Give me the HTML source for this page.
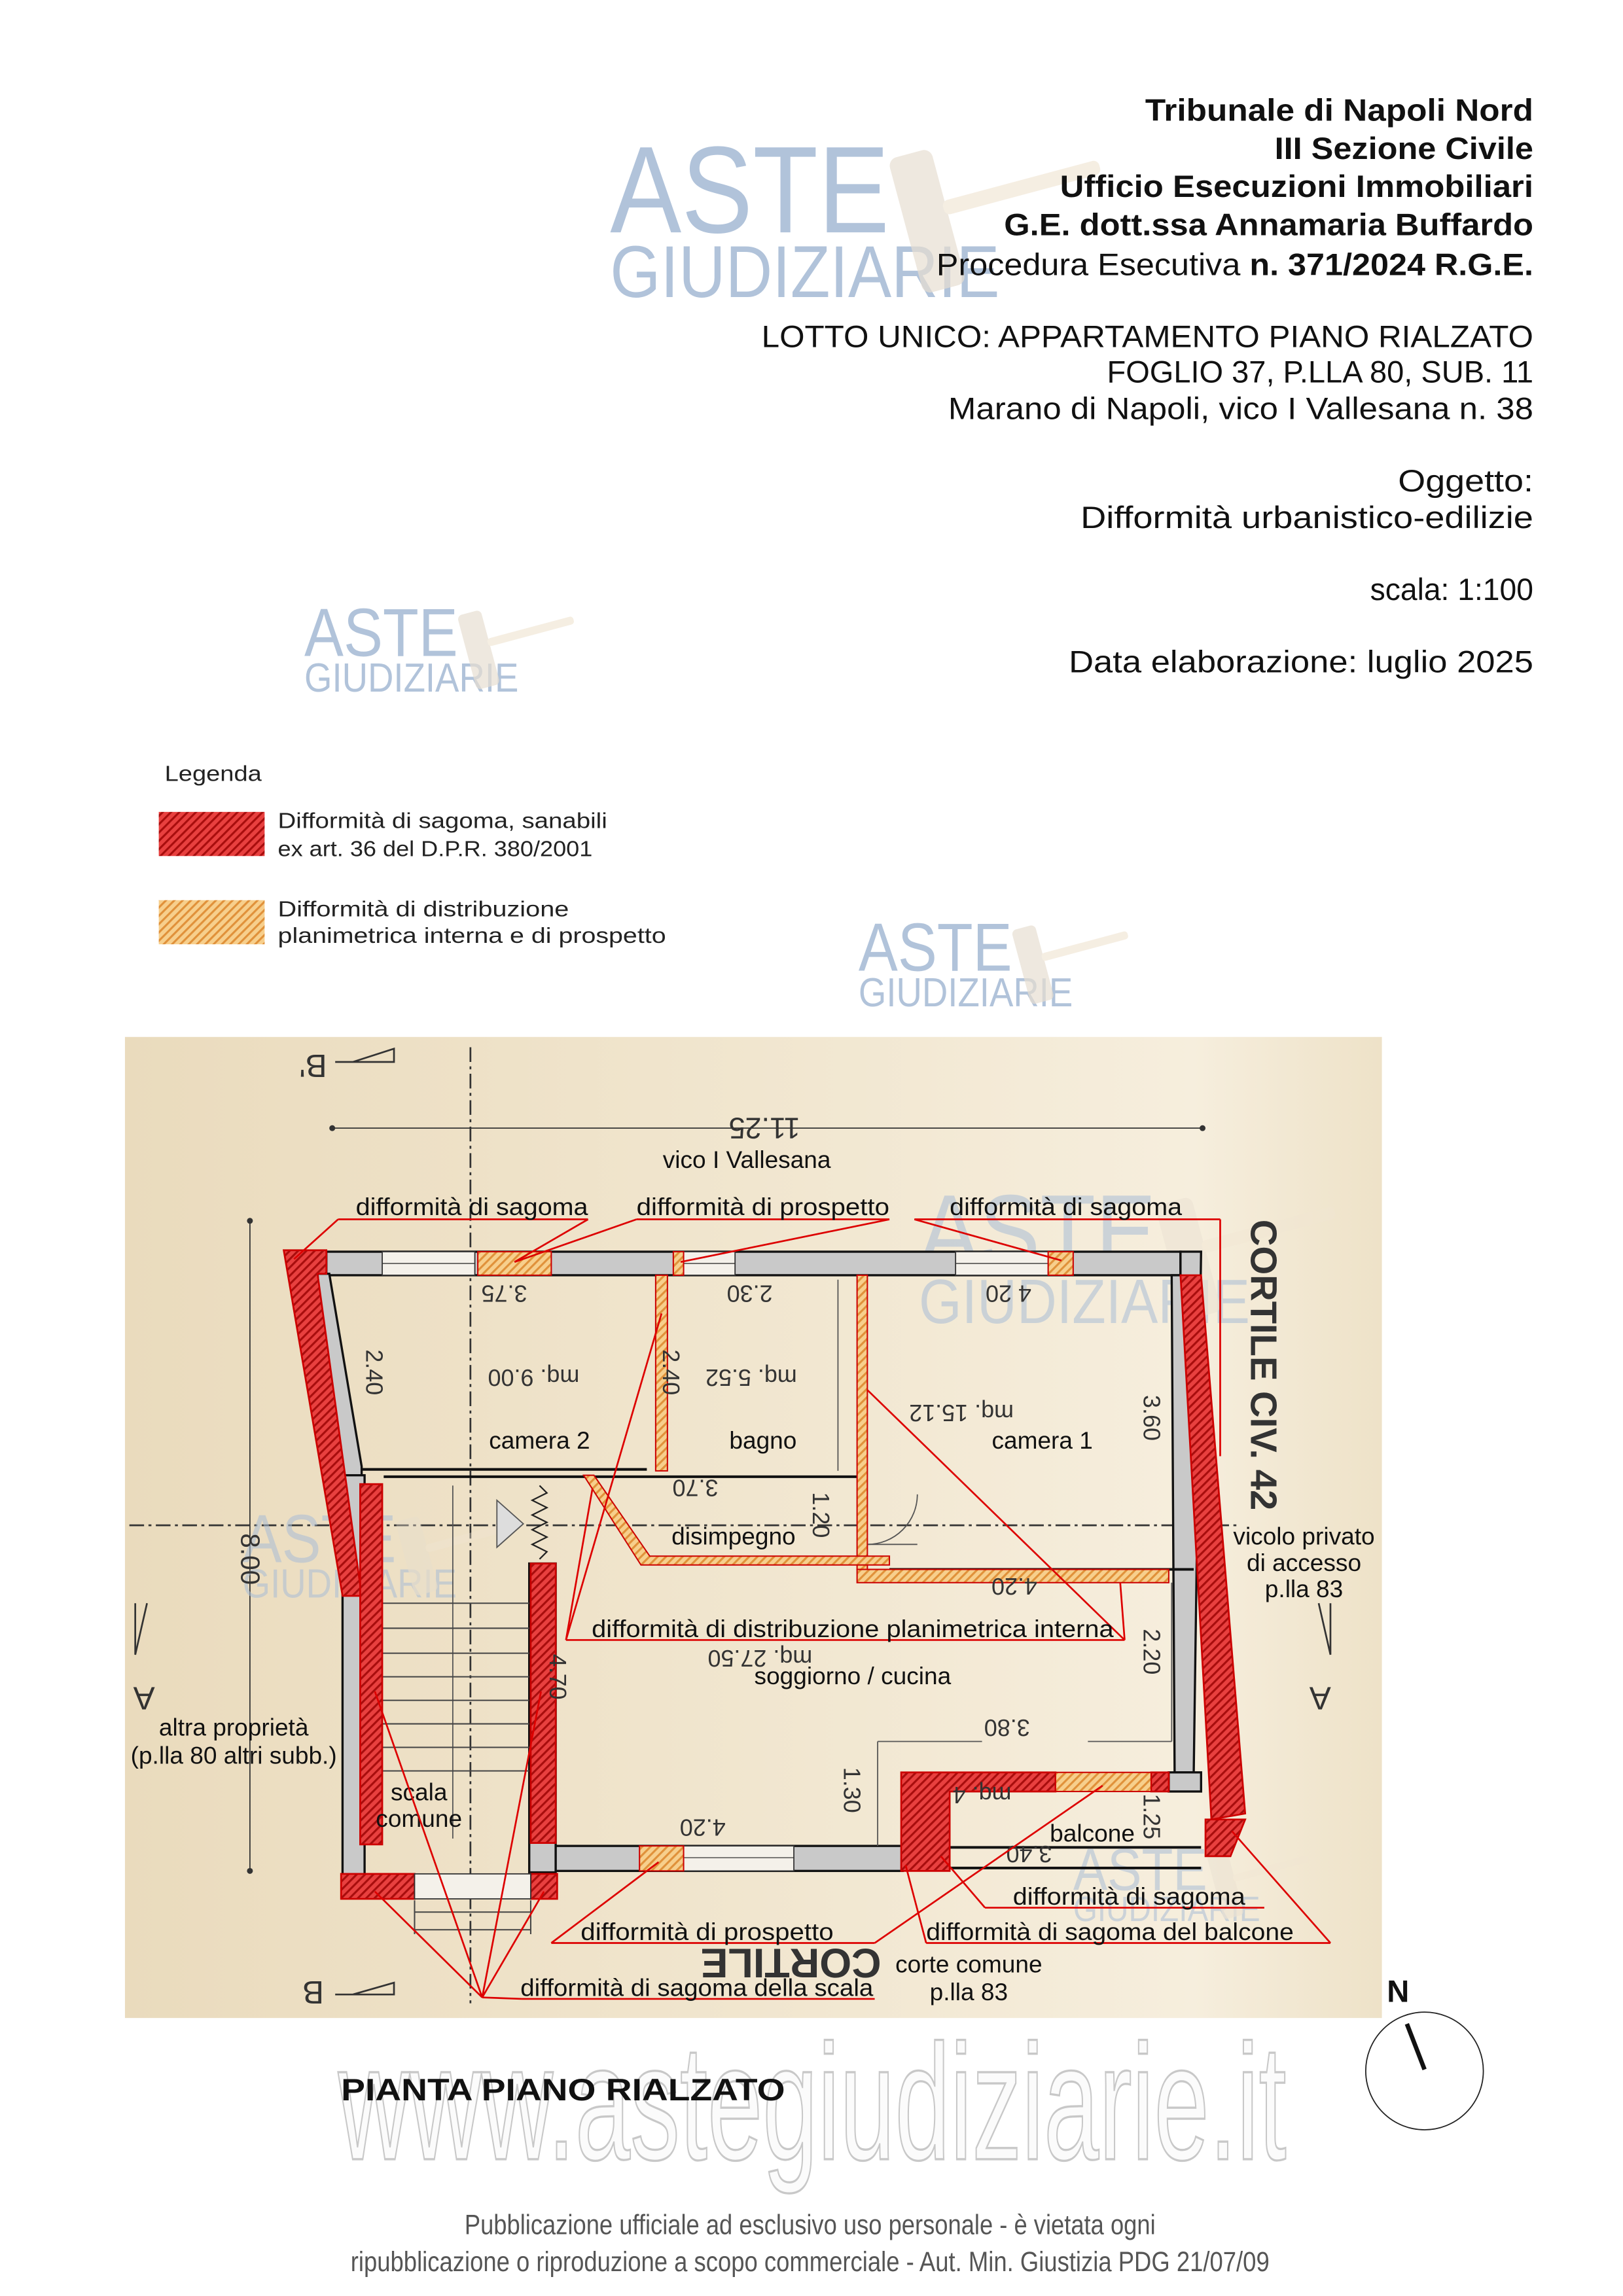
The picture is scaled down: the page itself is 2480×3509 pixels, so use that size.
<!DOCTYPE html>
<html><head><meta charset="utf-8"><style>
html,body{margin:0;padding:0;background:#fff}
svg{display:block}
text{font-family:"Liberation Sans",sans-serif}
</style></head><body>
<svg xmlns="http://www.w3.org/2000/svg" width="2480" height="3509" viewBox="0 0 1104 1561" preserveAspectRatio="none">
<defs>
<pattern id="hr" patternUnits="userSpaceOnUse" width="4" height="4" patternTransform="rotate(45)">
<rect width="4" height="4" fill="#e8403f"/><rect width="1.4" height="4" fill="#a80d0d"/></pattern>
<pattern id="ho" patternUnits="userSpaceOnUse" width="4" height="4" patternTransform="rotate(45)">
<rect width="4" height="4" fill="#f7cf8c"/><rect width="1.4" height="4" fill="#e0913a"/></pattern>
<linearGradient id="bg" x1="0" x2="1" y1="0" y2="0">
<stop offset="0" stop-color="#eadbbd"/><stop offset="0.5" stop-color="#f1e6cf"/><stop offset="0.85" stop-color="#f6eedd"/><stop offset="1" stop-color="#eee2c8"/></linearGradient>
<g id="logo">
<text x="0" y="0" font-size="84" fill="#a9bdd6" textLength="190" lengthAdjust="spacingAndGlyphs">ASTE</text>
<text x="0" y="44" font-size="50" fill="#a9bdd6" textLength="265" lengthAdjust="spacingAndGlyphs">GIUDIZIARIE</text>
<g transform="rotate(-15 215 -10)" opacity="0.7">
<rect x="200" y="-55" width="30" height="95" rx="6" fill="#e6dccd"/>
<rect x="228" y="-18" width="110" height="10" rx="4" fill="#efe4d2"/>
</g>
</g>
</defs>

<!-- watermark logos (header) -->
<use href="#logo" transform="translate(415,158)" opacity="0.9"/>
<use href="#logo" transform="translate(207,446) scale(0.55)" opacity="0.9"/>
<use href="#logo" transform="translate(584,660) scale(0.55)" opacity="0.9"/>

<!-- header text -->
<g font-size="21" fill="#111" text-anchor="end">
<text x="1043" y="82" font-weight="bold" textLength="264" lengthAdjust="spacingAndGlyphs">Tribunale di Napoli Nord</text>
<text x="1043" y="108" font-weight="bold" textLength="176" lengthAdjust="spacingAndGlyphs">III Sezione Civile</text>
<text x="1043" y="134" font-weight="bold" textLength="322" lengthAdjust="spacingAndGlyphs">Ufficio Esecuzioni Immobiliari</text>
<text x="1043" y="160" font-weight="bold" textLength="360" lengthAdjust="spacingAndGlyphs">G.E. dott.ssa Annamaria Buffardo</text>
<text x="1043" y="187" textLength="406" lengthAdjust="spacingAndGlyphs">Procedura Esecutiva <tspan font-weight="bold">n. 371/2024 R.G.E.</tspan></text>
<text x="1043" y="236" textLength="525" lengthAdjust="spacingAndGlyphs">LOTTO UNICO: APPARTAMENTO PIANO RIALZATO</text>
<text x="1043" y="260" textLength="290" lengthAdjust="spacingAndGlyphs">FOGLIO 37, P.LLA 80, SUB. 11</text>
<text x="1043" y="285" textLength="398" lengthAdjust="spacingAndGlyphs">Marano di Napoli, vico I Vallesana n. 38</text>
<text x="1043" y="334" textLength="92" lengthAdjust="spacingAndGlyphs">Oggetto:</text>
<text x="1043" y="359" textLength="308" lengthAdjust="spacingAndGlyphs">Difformità urbanistico-edilizie</text>
<text x="1043" y="408" textLength="111" lengthAdjust="spacingAndGlyphs">scala: 1:100</text>
<text x="1043" y="457" textLength="316" lengthAdjust="spacingAndGlyphs">Data elaborazione:  luglio 2025</text>
</g>

<!-- legend -->
<text x="112" y="531" font-size="15" fill="#222" textLength="66" lengthAdjust="spacingAndGlyphs">Legenda</text>
<rect x="108" y="552" width="72" height="30" fill="url(#hr)"/>
<rect x="108" y="612" width="72" height="30" fill="url(#ho)"/>
<g font-size="15" fill="#222">
<text x="189" y="563" textLength="224" lengthAdjust="spacingAndGlyphs">Difformità di sagoma, sanabili</text>
<text x="189" y="582" textLength="214" lengthAdjust="spacingAndGlyphs">ex art. 36 del D.P.R. 380/2001</text>
<text x="189" y="623" textLength="198" lengthAdjust="spacingAndGlyphs">Difformità di distribuzione</text>
<text x="189" y="641" textLength="264" lengthAdjust="spacingAndGlyphs">planimetrica interna e di prospetto</text>
</g>

<!-- plan background -->
<rect x="85" y="705" width="855" height="667" fill="url(#bg)"/>

<!-- axes -->
<g stroke="#333" stroke-width="1.2" stroke-dasharray="10,3,2,3" fill="none">
<line x1="320" y1="712" x2="320" y2="1362"/>
<line x1="88" y1="1037" x2="842" y2="1037"/>
</g>
<!-- dims -->
<g stroke="#333" stroke-width="0.8">
<line x1="226" y1="767" x2="818" y2="767"/>
<line x1="170" y1="830" x2="170" y2="1272"/>
</g>
<circle cx="226" cy="767" r="2" fill="#333"/><circle cx="818" cy="767" r="2" fill="#333"/>
<circle cx="170" cy="830" r="2" fill="#333"/><circle cx="170" cy="1272" r="2" fill="#333"/>

<!-- section markers -->
<g stroke="#333" stroke-width="1.2" fill="none">
<polyline points="228,722 268,722 268,713 240,722"/>
<polyline points="228,1356 268,1356 268,1348 240,1356"/>
<polyline points="92,1090 92,1125 100,1090"/>
<polyline points="905,1090 905,1125 897,1090"/>
</g>
<g font-size="22" fill="#333">
<text transform="translate(213,725) rotate(180)" text-anchor="middle" dy="8">B'</text>
<text transform="translate(213,1355) rotate(180)" text-anchor="middle" dy="8">B</text>
<text transform="translate(98,1155) rotate(180)" text-anchor="middle" dy="8">A</text>
<text transform="translate(898,1155) rotate(180)" text-anchor="middle" dy="8">A</text>
</g>

<!-- in-plan watermarks -->
<use href="#logo" transform="translate(625,862) scale(0.85)" opacity="0.55"/>
<use href="#logo" transform="translate(165,1062) scale(0.55)" opacity="0.55"/>
<use href="#logo" transform="translate(730,1285) scale(0.48)" opacity="0.55"/>

<!-- walls -->
<g fill="#c9c9c9" stroke="#111" stroke-width="1.5">
<rect x="222" y="851" width="581" height="16"/>
<polygon points="803,851 817,851 812,1205 799,1205 797,867 803,867"/>
<polygon points="216,866 224,866 246,997 246,1003 233,1003 233,1080"/>
<rect x="233" y="1003" width="15" height="272"/>
<rect x="360" y="1063" width="18" height="210"/>
<rect x="378" y="1255" width="236" height="17"/>
<rect x="795" y="1205" width="22" height="13"/>
</g>
<g fill="#f4f1ea" stroke="#333" stroke-width="0.8">
<rect x="260" y="851" width="63" height="16"/>
<rect x="465" y="851" width="35" height="16"/>
<rect x="650" y="851" width="63" height="16"/>
<rect x="465" y="1255" width="75" height="17"/>
</g>
<g stroke="#333" stroke-width="0.6">
<line x1="260" y1="859" x2="323" y2="859"/><line x1="465" y1="859" x2="500" y2="859"/>
<line x1="650" y1="859" x2="713" y2="859"/><line x1="465" y1="1263" x2="540" y2="1263"/>
</g>
<g stroke="#111" stroke-width="1.8" fill="none">
<line x1="246" y1="999" x2="440" y2="999"/>
<line x1="261" y1="1004" x2="583" y2="1004"/>
<line x1="605" y1="1067" x2="812" y2="1067"/>
<line x1="646" y1="1256" x2="817" y2="1256"/>
<line x1="646" y1="1270" x2="817" y2="1270"/>
</g>
<g stroke="#555" stroke-width="0.8" fill="none">
<line x1="597" y1="1184" x2="597" y2="1255"/>
<line x1="597" y1="1184" x2="668" y2="1184"/>
<line x1="740" y1="1184" x2="797" y2="1184"/>
<line x1="797" y1="1076" x2="797" y2="1184"/>
<path d="M590 1050 A34 34 0 0 0 624 1016"/>
<line x1="590" y1="1050" x2="624" y2="1050"/>
<line x1="570" y1="870" x2="570" y2="1000"/>
<line x1="308" y1="1010" x2="308" y2="1250"/>
</g>
<g stroke="#444" stroke-width="0.9">
<line x1="255" y1="1090" x2="360" y2="1090"/><line x1="255" y1="1107" x2="360" y2="1107"/>
<line x1="255" y1="1124" x2="360" y2="1124"/><line x1="255" y1="1140" x2="360" y2="1140"/>
<line x1="255" y1="1156" x2="360" y2="1156"/><line x1="255" y1="1172" x2="360" y2="1172"/>
<line x1="255" y1="1188" x2="360" y2="1188"/><line x1="255" y1="1204" x2="360" y2="1204"/>
<line x1="282" y1="1300" x2="361" y2="1300"/><line x1="282" y1="1312" x2="361" y2="1312"/>
<line x1="282" y1="1292" x2="282" y2="1315"/><line x1="361" y1="1292" x2="361" y2="1315"/>
</g>
<polygon points="338,1020 338,1052 356,1036" fill="#ddd" stroke="#555" stroke-width="0.8"/>
<polyline points="367,1010 372,1015 362,1020 372,1025 362,1030 372,1035 362,1040 372,1045 362,1050 372,1055 367,1060" fill="none" stroke="#222" stroke-width="1"/>

<!-- red hatched -->
<g fill="url(#hr)" stroke="#c00" stroke-width="1.2">
<polygon points="193,850 222,850 222,866 216,866 246,1085 233,1085"/>
<rect x="245" y="1009" width="15" height="245"/>
<rect x="361" y="1063" width="17" height="190"/>
<rect x="232" y="1274" width="50" height="17"/>
<rect x="361" y="1274" width="18" height="17"/>
<polygon points="613,1205 718,1205 718,1218 646,1218 646,1272 613,1272"/>
<rect x="783" y="1205" width="12" height="13"/>
<polygon points="803,867 817,867 847,1233 824,1237"/>
<polygon points="820,1237 847,1237 837,1262 820,1262"/>
</g>
<rect x="282" y="1274" width="79" height="17" fill="#f4f1ea" stroke="#333" stroke-width="0.8"/>
<g fill="url(#ho)" stroke="#c00" stroke-width="0.9">
<rect x="325" y="851" width="50" height="16"/>
<rect x="458" y="851" width="7" height="16"/>
<rect x="713" y="851" width="17" height="16"/>
<rect x="446" y="867" width="8" height="133"/>
<rect x="583" y="867" width="7" height="200"/>
<rect x="583" y="1067" width="212" height="9"/>
<polygon points="397,1003 404,1003 442,1058 605,1058 605,1064 436,1064"/>
<rect x="435" y="1255" width="30" height="17"/>
<rect x="718" y="1205" width="65" height="13"/>
</g>

<!-- dimension texts -->
<g font-size="16" fill="#333" text-anchor="middle">
<text transform="translate(520,767) rotate(180)" dy="7" font-size="20">11.25</text>
<text transform="translate(343,880) rotate(180)" dy="6">3.75</text>
<text transform="translate(510,880) rotate(180)" dy="6">2.30</text>
<text transform="translate(686,880) rotate(180)" dy="6">4 20</text>
<text transform="translate(363,937) rotate(180)" dy="6">mq. 9.00</text>
<text transform="translate(511,937) rotate(180)" dy="6">mq. 5.52</text>
<text transform="translate(654,961) rotate(180)" dy="6">mq. 15.12</text>
<text transform="translate(473,1012) rotate(180)" dy="6">3.70</text>
<text transform="translate(690,1079) rotate(180)" dy="6">4.20</text>
<text transform="translate(517,1128) rotate(180)" dy="6">mq. 27.50</text>
<text transform="translate(685,1175) rotate(180)" dy="6">3.80</text>
<text transform="translate(478,1243) rotate(180)" dy="6">4.20</text>
<text transform="translate(700,1261) rotate(180)" dy="6">3.40</text>
<text transform="translate(668,1221) rotate(180)" dy="6">mq. 4</text>
<text transform="translate(170,1060) rotate(90)" dy="6" font-size="18">8.00</text>
<text transform="translate(255,933) rotate(90)" dy="6">2.40</text>
<text transform="translate(457,933) rotate(90)" dy="6">2.40</text>
<text transform="translate(784,964) rotate(90)" dy="6">3.60</text>
<text transform="translate(559,1030) rotate(90)" dy="6">1.20</text>
<text transform="translate(784,1123) rotate(90)" dy="6">2.20</text>
<text transform="translate(380,1140) rotate(90)" dy="6">4.70</text>
<text transform="translate(580,1217) rotate(90)" dy="6">1.30</text>
<text transform="translate(784,1235) rotate(90)" dy="6">1.25</text>
</g>

<!-- labels -->
<g font-size="16.5" fill="#111" text-anchor="middle">
<text x="508" y="794">vico I Vallesana</text>
<text x="367" y="985">camera 2</text>
<text x="519" y="985">bagno</text>
<text x="709" y="985">camera 1</text>
<text x="499" y="1050">disimpegno</text>
<text x="580" y="1145">soggiorno / cucina</text>
<text x="285" y="1224">scala</text>
<text x="285" y="1242">comune</text>
<text x="743" y="1252">balcone</text>
<text x="159" y="1180">altra proprietà</text>
<text x="159" y="1199">(p.lla 80 altri subb.)</text>
<text x="887" y="1050">vicolo privato</text>
<text x="887" y="1068">di accesso</text>
<text x="887" y="1086">p.lla 83</text>
<text x="659" y="1341">corte comune</text>
<text x="659" y="1360">p.lla 83</text>
<text transform="translate(851,928) rotate(90)" font-size="25" font-weight="bold" fill="#333">CORTILE CIV. 42</text>
<text transform="translate(538,1335) rotate(180)" dy="10" font-size="28" font-weight="bold" fill="#333">CORTILE</text>
</g>

<!-- callouts -->
<g stroke="#d00" stroke-width="1.2" fill="none">
<line x1="230" y1="829" x2="400" y2="829"/><line x1="230" y1="829" x2="200" y2="856"/><line x1="400" y1="829" x2="350" y2="858"/>
<line x1="433" y1="829" x2="605" y2="829"/><line x1="433" y1="829" x2="350" y2="858"/><line x1="605" y1="829" x2="463" y2="858"/>
<line x1="622" y1="829" x2="830" y2="829"/><line x1="622" y1="829" x2="722" y2="857"/><line x1="830" y1="829" x2="830" y2="990"/>
<line x1="385" y1="1115" x2="765" y2="1115"/><line x1="385" y1="1115" x2="450" y2="893"/><line x1="385" y1="1115" x2="403" y2="1012"/>
<line x1="765" y1="1115" x2="590" y2="945"/><line x1="765" y1="1115" x2="762" y2="1076"/>
<line x1="355" y1="1359" x2="595" y2="1359"/><line x1="328" y1="1358" x2="255" y2="1286"/><line x1="328" y1="1358" x2="370" y2="1286"/>
<line x1="328" y1="1358" x2="255" y2="1150"/><line x1="328" y1="1358" x2="368" y2="1150"/><line x1="328" y1="1358" x2="355" y2="1359"/>
<line x1="375" y1="1321" x2="595" y2="1321"/><line x1="375" y1="1321" x2="448" y2="1266"/><line x1="595" y1="1321" x2="750" y2="1214"/>
<line x1="670" y1="1297" x2="860" y2="1297"/><line x1="670" y1="1297" x2="640" y2="1262"/>
<line x1="630" y1="1321" x2="905" y2="1321"/><line x1="905" y1="1321" x2="838" y2="1245"/><line x1="630" y1="1321" x2="616" y2="1268"/>
</g>
<g font-size="16.5" fill="#111" text-anchor="middle">
<text x="321" y="826" textLength="158" lengthAdjust="spacingAndGlyphs">difformità di sagoma</text>
<text x="519" y="826" textLength="172" lengthAdjust="spacingAndGlyphs">difformità di prospetto</text>
<text x="725" y="826" textLength="158" lengthAdjust="spacingAndGlyphs">difformità di sagoma</text>
<text x="580" y="1113" textLength="355" lengthAdjust="spacingAndGlyphs">difformità di distribuzione planimetrica interna</text>
<text x="768" y="1295" textLength="158" lengthAdjust="spacingAndGlyphs">difformità di sagoma</text>
<text x="481" y="1319" textLength="172" lengthAdjust="spacingAndGlyphs">difformità di prospetto</text>
<text x="755" y="1319" textLength="250" lengthAdjust="spacingAndGlyphs">difformità di sagoma del balcone</text>
<text x="474" y="1357" textLength="240" lengthAdjust="spacingAndGlyphs">difformità di sagoma della scala</text>
</g>

<!-- footer -->
<text x="230" y="1468" font-size="112" fill="#fbfbfb" stroke="#c8c8c8" stroke-width="1.5" textLength="645" lengthAdjust="spacingAndGlyphs">www.astegiudiziarie.it</text>
<text x="232" y="1428" font-size="21" font-weight="bold" fill="#111" textLength="302" lengthAdjust="spacingAndGlyphs">PIANTA PIANO RIALZATO</text>
<text x="951" y="1361" font-size="21" font-weight="bold" fill="#111" text-anchor="middle">N</text>
<circle cx="969" cy="1408" r="40" fill="none" stroke="#222" stroke-width="0.8"/>
<line x1="957" y1="1376" x2="969" y2="1407" stroke="#111" stroke-width="3"/>
<g font-size="19" fill="#555" text-anchor="middle">
<text x="551" y="1519" textLength="470" lengthAdjust="spacingAndGlyphs">Pubblicazione ufficiale ad esclusivo uso personale - è vietata ogni</text>
<text x="551" y="1544" textLength="625" lengthAdjust="spacingAndGlyphs">ripubblicazione o riproduzione a scopo commerciale - Aut. Min. Giustizia PDG 21/07/09</text>
</g>
</svg>
</body></html>
